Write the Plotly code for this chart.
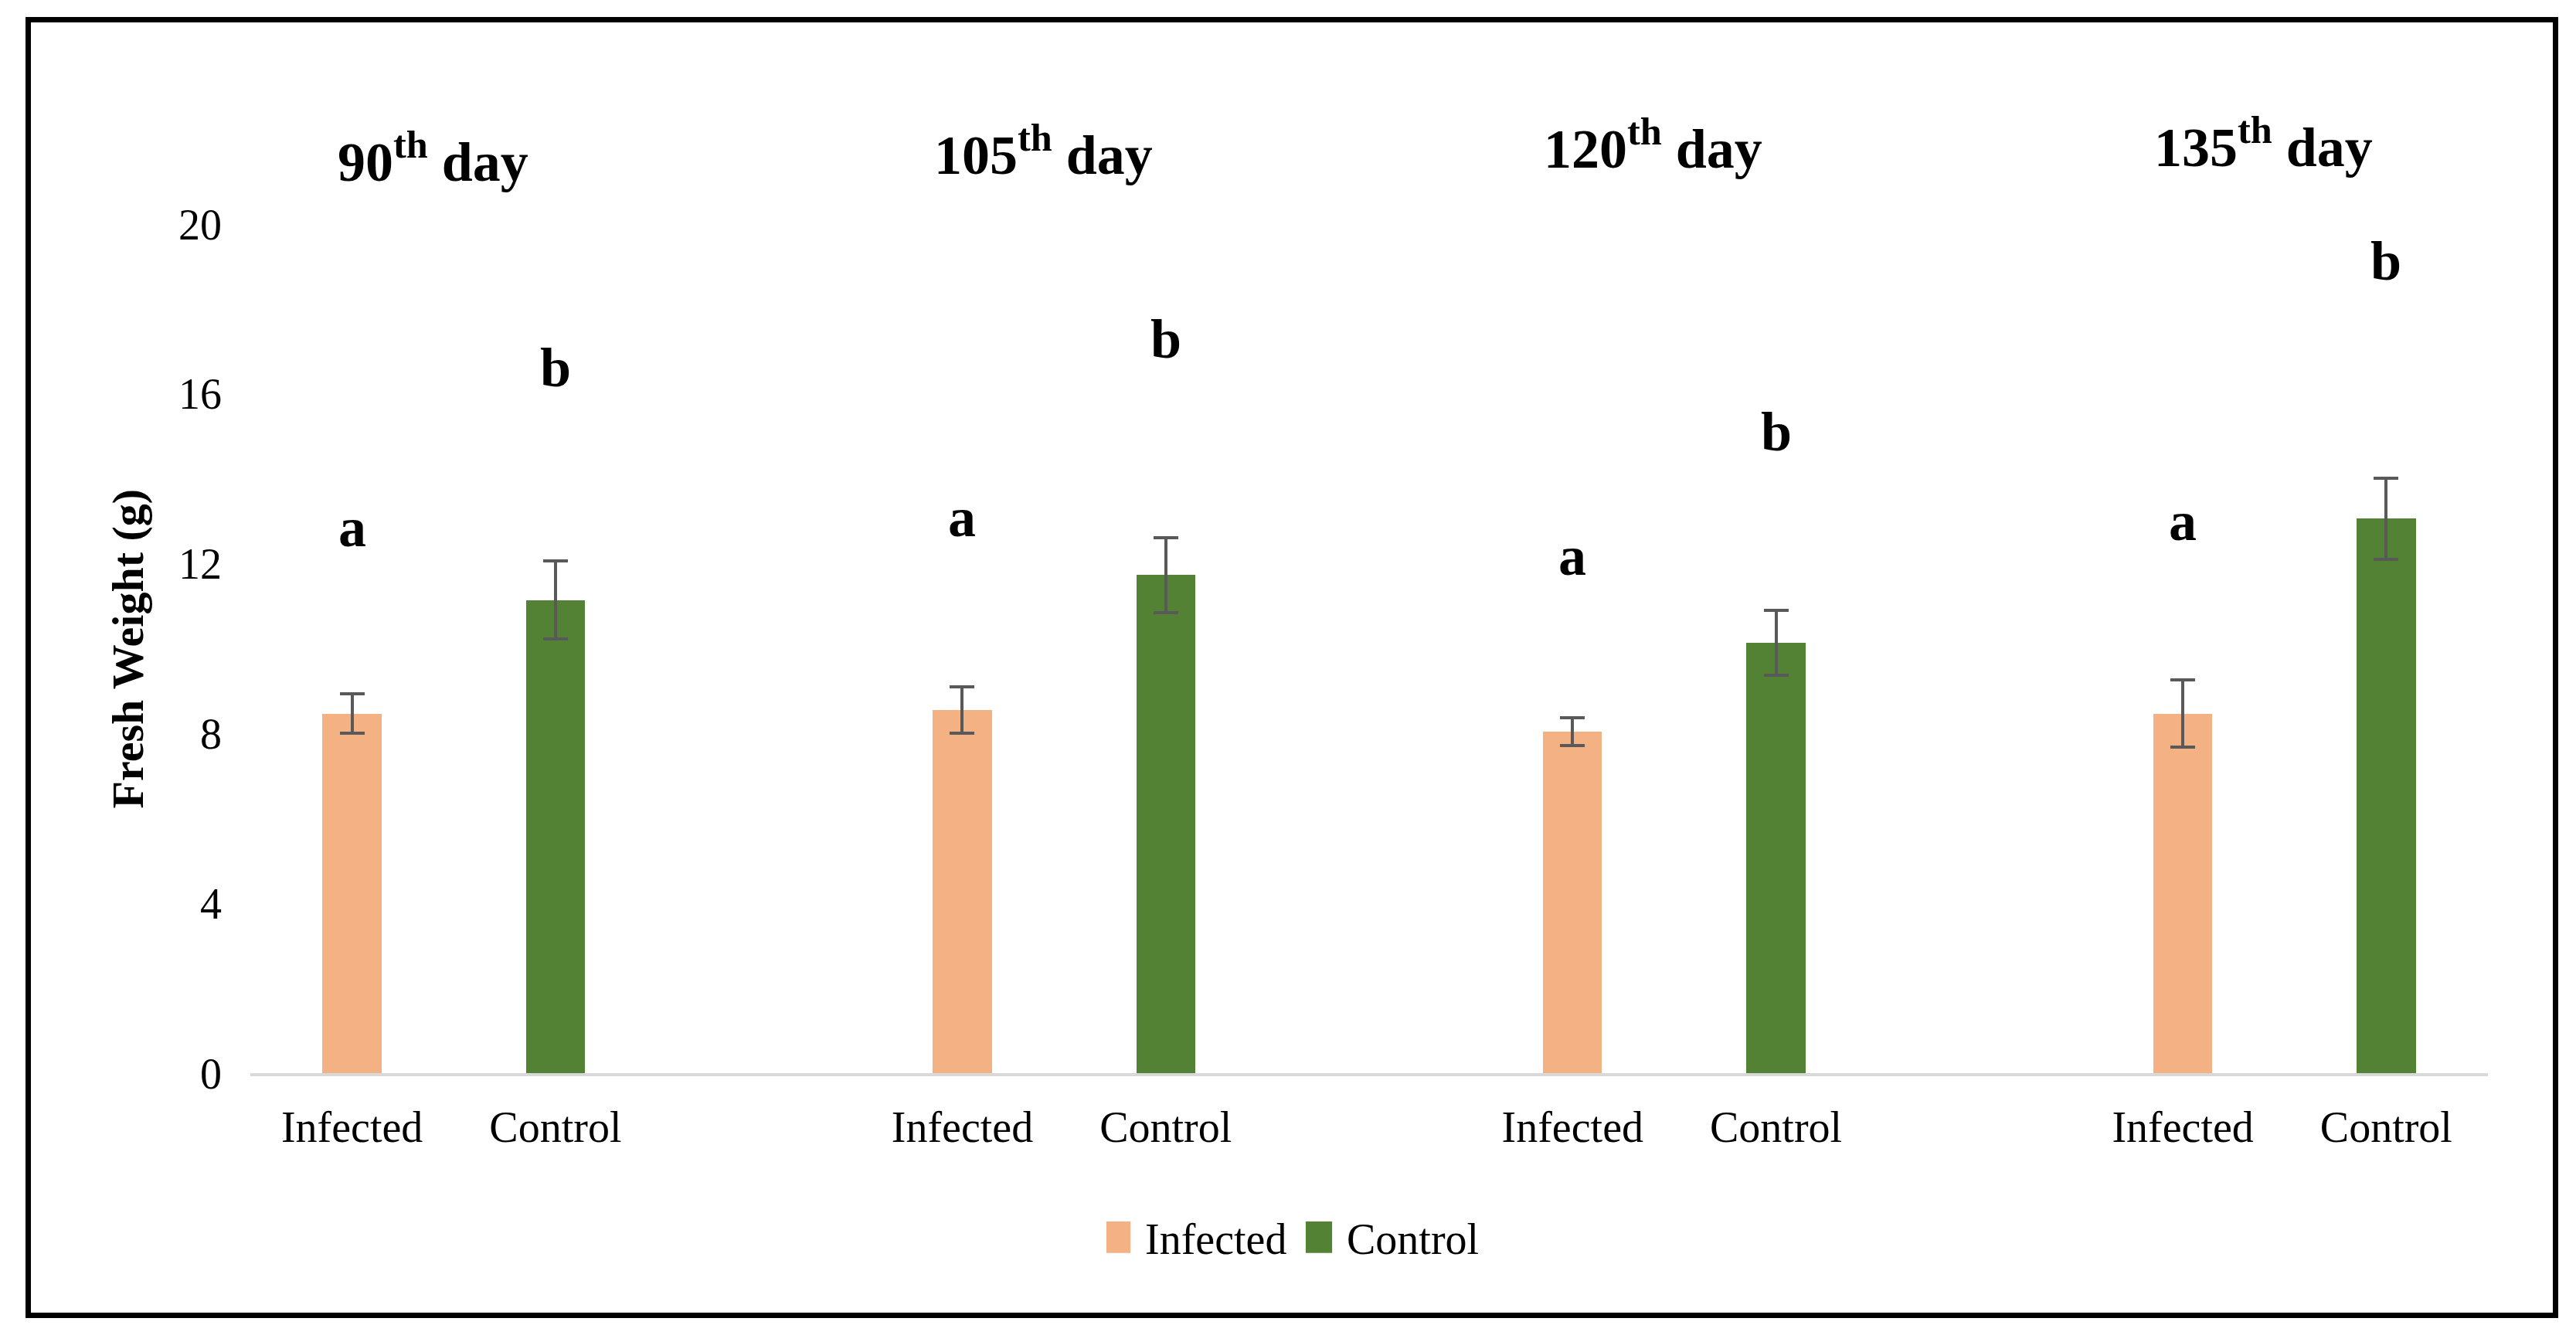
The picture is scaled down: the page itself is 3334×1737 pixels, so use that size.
import plotly.graph_objects as go

# ---- data ----
days = ["90", "105", "120", "135"]
series_names = ["Infected", "Control"]
infected_mean = [8.47, 8.55, 8.05, 8.47]
infected_err = [0.46, 0.55, 0.33, 0.79]
control_mean = [11.14, 11.73, 10.14, 13.06]
control_err = [0.92, 0.88, 0.76, 0.96]
infected_letters = ["a", "a", "a", "a"]
control_letters = ["b", "b", "b", "b"]
infected_letter_y = [12.85, 13.09, 12.18, 13.00]
control_letter_y = [16.62, 17.28, 15.10, 19.13]
title_y_paper = [1.035, 1.043, 1.050, 1.052]
y_tick_vals = [0, 4, 8, 12, 16, 20]

ORANGE = "#F4B183"
GREEN = "#548235"
ERR = "#595959"
FONT = "Liberation Serif"

slots_per_group = 3
x_inf = [g * slots_per_group for g in range(len(days))]
x_ctl = [g * slots_per_group + 1 for g in range(len(days))]
x_center = [g * slots_per_group + 0.5 for g in range(len(days))]

fig = go.Figure()
fig.add_trace(go.Bar(
    x=x_inf, y=infected_mean, name=series_names[0], width=0.29,
    marker=dict(color=ORANGE, line=dict(width=0)),
    error_y=dict(type="data", array=infected_err, visible=True,
                 color=ERR, thickness=4, width=16),
))
fig.add_trace(go.Bar(
    x=x_ctl, y=control_mean, name=series_names[1], width=0.29,
    marker=dict(color=GREEN, line=dict(width=0)),
    error_y=dict(type="data", array=control_err, visible=True,
                 color=ERR, thickness=4, width=16),
))

bold72 = dict(family=FONT, size=72, color="black", weight="bold")
annotations = []
for i in range(len(days)):
    annotations.append(dict(x=x_inf[i], y=infected_letter_y[i], xref="x", yref="y",
                            text=infected_letters[i], showarrow=False,
                            yanchor="middle", xanchor="center", font=bold72))
    annotations.append(dict(x=x_ctl[i], y=control_letter_y[i], xref="x", yref="y",
                            text=control_letters[i], showarrow=False,
                            yanchor="middle", xanchor="center", font=bold72))
    annotations.append(dict(x=x_center[i], y=title_y_paper[i], xref="x", yref="paper",
                            text="%s<sup>th</sup> day" % days[i], showarrow=False,
                            yanchor="bottom", xanchor="center", xshift=-27, font=bold72))

annotations.append(dict(x=-0.0546, y=0.5, xref="paper", yref="paper",
                        text="Fresh Weight (g)", showarrow=False, textangle=-90,
                        xanchor="center", yanchor="middle",
                        font=dict(family=FONT, size=58, color="black", weight="bold")))

fig.update_layout(
    width=3334, height=1737,
    margin=dict(l=324, r=114, t=290, b=348, pad=0),
    paper_bgcolor="white", plot_bgcolor="white",
    bargap=0, barmode="overlay",
    font=dict(family=FONT, size=56, color="black"),
    showlegend=True,
    legend=dict(orientation="h", xref="container", yref="container",
                x=0.5078, y=0.078, xanchor="center", yanchor="middle",
                font=dict(family=FONT, size=56, color="black"),
                itemwidth=40, entrywidth=206, entrywidthmode="pixels",
                traceorder="normal"),
    annotations=annotations,
    shapes=[dict(type="rect", xref="paper", yref="paper",
                 x0=-0.09927, x1=1.03022, y0=-0.28526, y1=1.24067,
                 line=dict(color="black", width=7), fillcolor="rgba(0,0,0,0)",
                 layer="above")],
)

fig.update_xaxes(
    range=[-0.5, len(days) * slots_per_group - 1.5],
    tickmode="array",
    tickvals=x_inf + x_ctl,
    ticktext=[series_names[0]] * len(days) + [series_names[1]] * len(days),
    showline=True, linecolor="#D9D9D9", linewidth=4,
    showgrid=False, zeroline=False, ticks="",
    ticklabelstandoff=18,
    tickfont=dict(family=FONT, size=56, color="black"),
)
fig.update_yaxes(
    range=[0, 20], tickmode="array", tickvals=y_tick_vals,
    showline=False, showgrid=False, zeroline=False, ticks="",
    ticklabelstandoff=36,
    tickfont=dict(family=FONT, size=56, color="black"),
)

# enlarge the legend swatches to match the reference's large square keys
post = """
document.body.style.margin='0';
document.querySelectorAll('.legend .legendpoints path').forEach(function(p){
    p.setAttribute('transform','translate(14,0) scale(2.85,3.4)');
});
"""
fig.write_html("out.html", post_script=post, config={"displayModeBar": False})
